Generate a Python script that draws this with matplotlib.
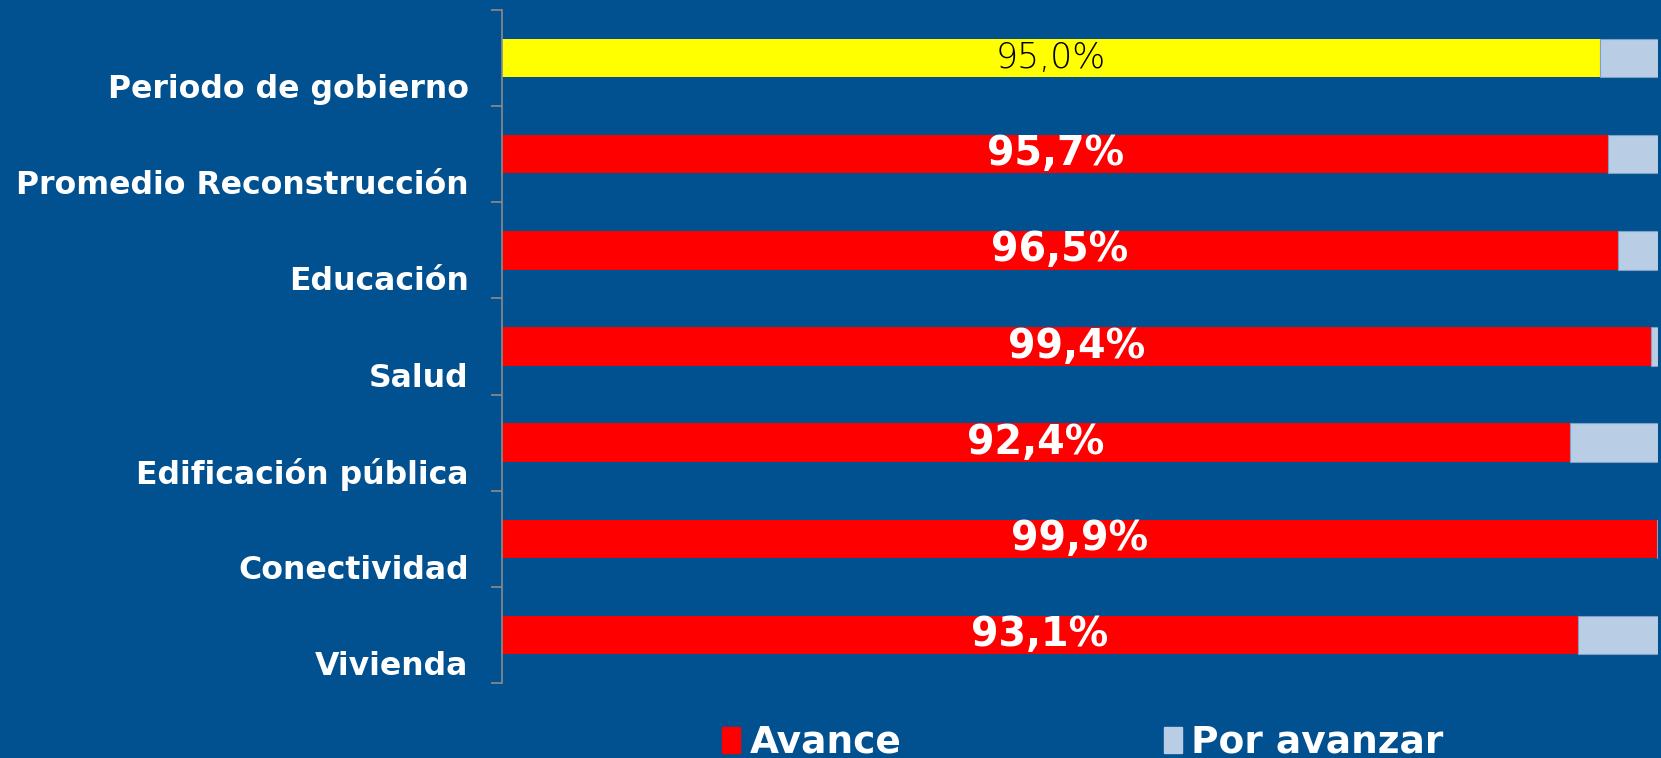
import matplotlib
matplotlib.use("Agg")
import matplotlib.pyplot as plt
import matplotlib.transforms as mtransforms
import numpy as np

categories = [
    "Periodo de gobierno",
    "Promedio Reconstrucción",
    "Educación",
    "Salud",
    "Edificación pública",
    "Conectividad",
    "Vivienda",
]
avanceValues = [95.0, 95.7, 96.5, 99.4, 92.4, 99.9, 93.1]
porAvanzarValues = [5.0, 4.3, 3.5, 0.6, 7.6, 0.1, 6.9]
avanceLabels = ["95,0%", "95,7%", "96,5%", "99,4%", "92,4%", "99,9%", "93,1%"]

backgroundColor = "#01508F"
avanceColors = ["#FFFF00"] + ["#FF0000"] * 6
restColor = "#B9CDE5"

fig = plt.figure(figsize=(16.61, 7.58), dpi=100, facecolor=backgroundColor)
# axis box: x 502..1658 px, y 10..683 px
axis = fig.add_axes([502 / 1661, 1 - 683 / 758, 1156 / 1661, 673 / 758], facecolor=backgroundColor)

positions = np.arange(len(categories))
axis.barh(positions, avanceValues, height=0.4, color=avanceColors, linewidth=0)
axis.barh(positions, porAvanzarValues, left=avanceValues, height=0.4, color=restColor,
          edgecolor="#7F9FC8", linewidth=0.8)

for index, value in enumerate(avanceValues):
    if index == 0:
        axis.text(value / 2, index, avanceLabels[index], ha="center", va="center",
                  fontsize=25, color="black", fontweight="light", family=["DejaVu Sans"])
    else:
        axis.text(value / 2, index, avanceLabels[index], ha="center", va="center",
                  fontsize=28.5, color="white", fontweight="bold")

axis.set_xlim(0, 100)
axis.set_ylim(len(categories) - 0.5, -0.5)
axis.set_xticks([])
axis.set_yticks(positions)
axis.set_yticklabels(categories, fontsize=22.7, fontweight="bold", color="white")
axis.tick_params(axis="y", which="major", length=0, pad=24)
axis.set_yticks(np.arange(-0.5, len(categories), 1.0), minor=True)
axis.tick_params(axis="y", which="minor", length=8, width=1.2, color="#8C8C8C")

# the category names sit below the bars in the original
offset = mtransforms.ScaledTranslation(0, -0.28, fig.dpi_scale_trans)
for label in axis.get_yticklabels():
    label.set_transform(label.get_transform() + offset)

for side in ["top", "right", "bottom"]:
    axis.spines[side].set_visible(False)
axis.spines["left"].set_color("#8C8C8C")
axis.spines["left"].set_linewidth(1.2)

legendHandles = [
    plt.Rectangle((0, 0), 1, 1, color="#FF0000"),
    plt.Rectangle((0, 0), 1, 1, color=restColor),
]
legend = fig.legend(legendHandles, ["Avance", "Por avanzar"], loc="center",
                    bbox_to_anchor=(0.652, 0.02), ncol=2, frameon=False,
                    fontsize=27, handlelength=0.48, handleheight=0.7,
                    handletextpad=0.25, columnspacing=7.0)
for text in legend.get_texts():
    text.set_color("white")
    text.set_fontweight("bold")

fig.savefig("out.png", dpi=100, facecolor=backgroundColor)
